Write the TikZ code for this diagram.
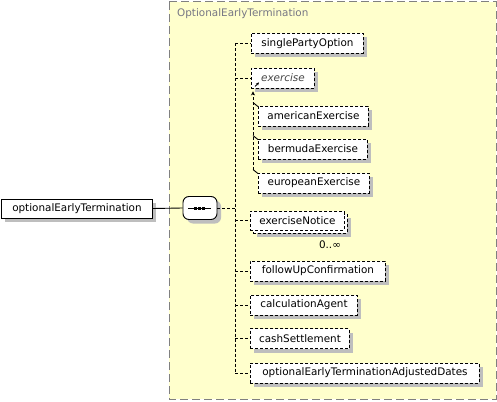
\documentclass[tikz,border=0pt]{standalone}
\usepackage{fontspec}
\setmainfont{DejaVu Sans}
\usetikzlibrary{arrows.meta,calc}
\definecolor{boxyellow}{RGB}{255,255,204}
\definecolor{framegray}{RGB}{128,128,128}
\definecolor{titlegray}{RGB}{118,118,132}
\definecolor{shadowgray}{RGB}{190,190,190}
\definecolor{italgray}{RGB}{70,70,70}
\tikzset{
  lbl/.style={font=\fontsize{10.4}{12}\selectfont},
  elem/.style={lbl,draw,line width=0.9pt,dash pattern=on 3pt off 2pt,fill=white,
    minimum height=20pt,inner sep=0pt,anchor=west},
  rootbox/.style={lbl,draw,line width=0.9pt,fill=white,minimum height=19pt,inner sep=0pt,anchor=west},
  conn/.style={line width=0.9pt,dash pattern=on 3pt off 2pt},
  shadowfill/.style={fill=shadowgray},
}
% #1 options, #2 name, #3 x, #4 y (centre), #5 width, #6 half height, #7 text
\newcommand{\xsdelem}[7][]{%
  \fill[shadowfill] ({#3+4},{#4-#6+4}) rectangle ({#3+#5+4},{#4+#6+4});
  \node[elem,minimum width=#5pt,minimum height=2*#6pt,#1] (#2) at (#3,#4) {#7};
}
\begin{document}
\begin{tikzpicture}[x=1pt,y=-1pt]
\useasboundingbox (0,0) rectangle (497,401);
% yellow group
\draw[framegray,line width=1pt,dash pattern=on 8pt off 4pt,fill=boxyellow] (169,2) rectangle (496,399);
\node[anchor=west,text=titlegray,lbl,inner sep=0pt] (title) at (177,14) {OptionalEarlyTermination};

% root
\fill[shadowfill] (5,203) rectangle (156,222);
\node[rootbox,minimum width=151pt] (root) at (1,208.5) {optionalEarlyTermination};

% sequence
\fill[shadowfill,rounded corners=6pt] (187,200.5) rectangle (221,223.5);
\node[draw,line width=0.9pt,fill=white,rounded corners=6pt,minimum width=34pt,minimum height=23pt,inner sep=0pt] (seq) at (200,208) {};
\draw[line width=1pt] ($(seq.center)+(-12,0)$) -- ($(seq.center)+(11,0)$);
\foreach \dx in {-5,-1,3}{\fill ($(seq.center)+(\dx-1.5,-1.5)$) rectangle +(3,3);}
\draw[line width=0.9pt] (root.east) -- (seq.west);

% children
\xsdelem{single}{251}{43.5}{112}{10}{singlePartyOption}
\xsdelem[text=italgray,font=\fontsize{10.4}{12}\selectfont\itshape]{exercise}{251}{78}{63}{10}{exercise}
\xsdelem{american}{258}{116}{110}{10}{americanExercise}
\xsdelem{bermuda}{258}{149}{109}{10}{bermudaExercise}
\xsdelem{european}{258}{183}{111}{10}{europeanExercise}
\xsdelem{enback}{253}{223.5}{94}{9.5}{}
\node[elem,minimum width=94pt,minimum height=19pt] (en) at (250,220.5) {exerciseNotice};
\node[lbl,inner sep=0pt] (mult) at (330,245) {0..∞};
\xsdelem{follow}{250}{271}{135}{10}{followUpConfirmation}
\xsdelem{calc}{250}{305}{107}{10}{calculationAgent}
\xsdelem{cash}{250}{338.5}{99}{10}{cashSettlement}
\xsdelem{adj}{250}{373}{229}{10}{optionalEarlyTerminationAdjustedDates}

% spine
\coordinate (spine) at (235,0);
\draw[conn] (seq.east) -- (spine |- seq.east);
\draw[conn] (spine |- single.west) -- (spine |- adj.west);
\foreach \n in {single,exercise,en,follow,calc,cash,adj}{
  \draw[conn] (spine |- \n.west) -- (\n.west);
}

% exercise reference icon
\coordinate (ic) at (exercise.south west);
\draw[line width=0.8pt,-{Stealth[length=3pt,width=3pt]}] ($(ic)+(4,-2)$) -- ($(ic)+(8,-6)$);

% substitution group
\coordinate (sub) at (253,0);
\draw[conn,-{Stealth[length=4pt,width=4pt]}] ($(sub |- european.north)+(0,-3)$) -- ($(sub |- exercise.south)+(0,3)$);
\foreach \n in {american,bermuda,european}{
  \draw[line width=0.9pt] ($(sub |- \n.north)+(0,-3)$) -- ($(\n.north west)+(0,1)$);
}
\end{tikzpicture}
\end{document}
